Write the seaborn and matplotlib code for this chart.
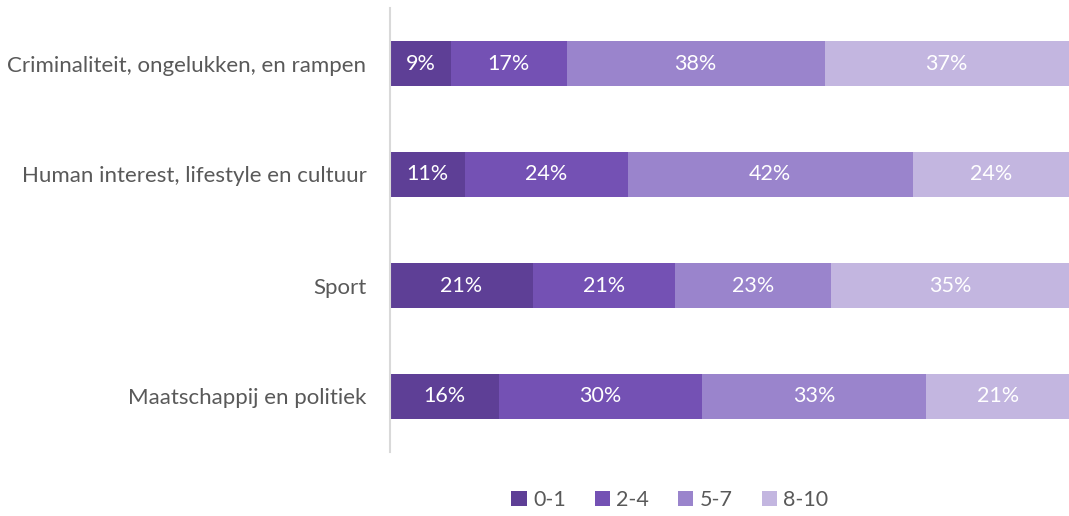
import matplotlib
matplotlib.use("Agg")
import matplotlib.pyplot as plt
import seaborn as sns
import pandas as pd
import numpy as np
from matplotlib.patches import Patch

categories = ["Criminaliteit, ongelukken, en rampen",
              "Human interest, lifestyle en cultuur",
              "Sport",
              "Maatschappij en politiek"]
series = ["0-1", "2-4", "5-7", "8-10"]
v01 = [9, 11, 21, 16]
v24 = [17, 24, 21, 30]
v57 = [38, 42, 23, 33]
v810 = [37, 24, 35, 21]
colors = ["#5E3F96", "#7451B4", "#9A84CC", "#C3B6E0"]

sns.set_theme(style="white")
plt.rcParams['font.family'] = ['Lato', 'DejaVu Sans']

vals = np.array([v01, v24, v57, v810], dtype=float)
cum = np.cumsum(vals, axis=0)

fig = plt.figure(figsize=(10.69, 5.16), dpi=100)
ax = fig.add_axes([390/1069, 1 - 452/516, 1 - 390/1069, 444/516])

for i in range(len(series) - 1, -1, -1):
    df = pd.DataFrame({"cat": categories, "val": cum[i]})
    sns.barplot(data=df, x="val", y="cat", color=colors[i], orient="h",
                width=0.4, ax=ax, saturation=1, linewidth=0)

ax.set_xlim(0, 100)
ax.set_ylim(3.5, -0.5)
for j in range(len(categories)):
    left = 0
    for i in range(len(series)):
        right = min(cum[i, j], 100)
        ax.text((left + right) / 2, j, f"{int(vals[i, j])}%", ha="center", va="center",
                color="white", fontsize=15.5)
        left = right

ax.set_xlabel("")
ax.set_ylabel("")
ax.set_xticks([])
ax.tick_params(axis="y", length=0, pad=17, labelsize=16, labelcolor="#595959")
for s in ["top", "right", "bottom"]:
    ax.spines[s].set_visible(False)
ax.spines["left"].set_color("#D9D9D9")
ax.spines["left"].set_linewidth(1.5)

handles = [Patch(facecolor=c, edgecolor="none") for c in colors]
fig.legend(handles, series, loc="center", bbox_to_anchor=(670/1069, 1 - 500/516),
           ncol=4, frameon=False, fontsize=15.5, labelcolor="#595959",
           handlelength=0.7, handleheight=0.7, handletextpad=0.3, columnspacing=1.35)

fig.savefig("out.png", dpi=100)
